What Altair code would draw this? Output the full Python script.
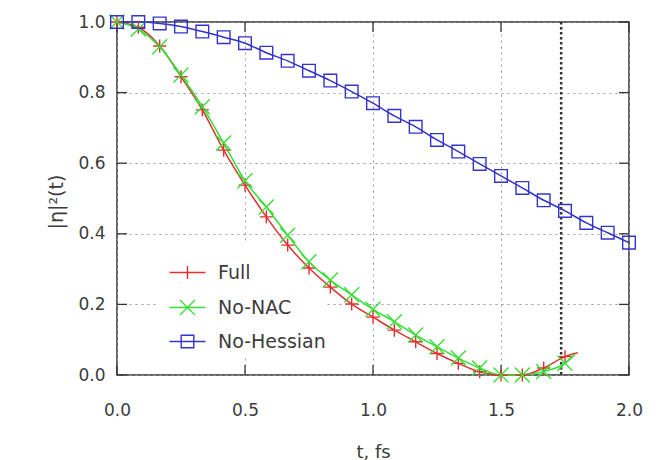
import altair as alt
import pandas as pd

# ---------------- data ----------------
t_marks = [0.0, 0.0833, 0.1667, 0.25, 0.3333, 0.4167, 0.5, 0.5833, 0.6667, 0.75,
           0.8333, 0.9167, 1.0, 1.0833, 1.1667, 1.25, 1.3333, 1.4167, 1.5, 1.5833,
           1.6667, 1.75, 1.8333, 1.9167, 2.0]

full_vals = [1.0, 0.985, 0.932, 0.845, 0.751, 0.637, 0.538, 0.448, 0.368, 0.303,
             0.249, 0.201, 0.164, 0.127, 0.094, 0.061, 0.033, 0.009, 0.0, 0.0,
             0.02, 0.052]
nonac_vals = [1.0, 0.98, 0.93, 0.85, 0.76, 0.657, 0.55, 0.476, 0.396, 0.321,
              0.269, 0.227, 0.186, 0.151, 0.113, 0.08, 0.048, 0.02, 0.0, 0.0,
              0.01, 0.033]
nohess_vals = [1.0, 1.0, 0.996, 0.987, 0.973, 0.957, 0.94, 0.913, 0.89, 0.862,
               0.834, 0.803, 0.77, 0.734, 0.703, 0.666, 0.633, 0.598, 0.564, 0.53,
               0.495, 0.465, 0.431, 0.403, 0.375]

# curve end points (lines continue slightly past the last marker)
full_end = (1.8, 0.063)
nonac_end = (1.79, 0.058)

series_names = ["Full", "No-NAC", "No-Hessian"]
series_colors = ["#e2302f", "#36e036", "#3434cc"]
marker_shapes = ["M-1,0L1,0M0,-1L0,1", "M-1,-1L1,1M-1,1L1,-1", "square"]
marker_sizes = [169, 225, 160]
legend_shapes = [
    "M-3,0L3,0M0,-1.1L0,1.1",
    "M-3,0L3,0M-1.25,-1.25L1.25,1.25M-1.25,1.25L1.25,-1.25",
    "M-3,0L3,0M-1.05,-1.05L1.05,-1.05L1.05,1.05L-1.05,1.05Z",
]

x_ticks = [0.0, 0.5, 1.0, 1.5, 2.0]
y_ticks = [0.0, 0.2, 0.4, 0.6, 0.8, 1.0]
marker_line_t = 1.735

FONT = "DejaVu Sans"
TXT = "#3c3c3c"

# ---------------- tables ----------------
rows = []
line_rows = []
for name, vals, shp, sz, end in zip(series_names, [full_vals, nonac_vals, nohess_vals],
                                    marker_shapes, marker_sizes,
                                    [full_end, nonac_end, None]):
    for t, v in zip(t_marks, vals):
        rows.append({"t": t, "v": v, "series": name, "mk": shp, "sz": sz})
        line_rows.append({"t": t, "v": v, "series": name})
    if end is not None:
        line_rows.append({"t": end[0], "v": end[1], "series": name})
pts = pd.DataFrame(rows)
lines = pd.DataFrame(line_rows)

W, H = 512, 353
xs = alt.Scale(domain=[0, 2], nice=False, zero=False)
ys = alt.Scale(domain=[0, 1], nice=False, zero=False)
cs = alt.Scale(domain=series_names, range=series_colors)

x_axis = alt.Axis(values=x_ticks, format=".1f", grid=True, gridDash=[2, 4],
                  gridColor="#9a9a9a", gridWidth=1, domain=False, ticks=False,
                  labelFlush=False, labelOverlap=False,
                  labelPadding=27, labelFontSize=17, labelFont=FONT, labelColor=TXT,
                  title="t, fs", titleFont=FONT, titleFontSize=18, titleColor=TXT,
                  titleFontWeight="normal", titleBaseline="alphabetic", titleY=82)
y_axis = alt.Axis(values=y_ticks, format=".1f", grid=True, gridDash=[2, 4],
                  gridColor="#9a9a9a", gridWidth=1, domain=False, ticks=False,
                  labelFlush=False, labelOverlap=False,
                  labelPadding=12, labelFontSize=17, labelFont=FONT, labelColor=TXT,
                  title="|η|²(t)", titleFont=FONT, titleFontSize=19, titleColor=TXT,
                  titleFontWeight="normal", titleX=-61, titleY=H / 2 + 3,
                  titleBaseline="middle", titleAlign="center", titleAngle=270)

leg = alt.Legend(orient="none", legendX=61, legendY=241, title=None,
                 labelFontSize=19, labelFont=FONT, labelColor=TXT,
                 symbolSize=144, symbolStrokeWidth=1.4,
                 symbolOpacity=1, symbolFillColor="transparent",
                 labelOffset=21, rowPadding=14, padding=0)

# legend background (keeps curves above it)
bg = alt.Chart(pd.DataFrame({"a": [0]})).mark_rect(color="white").encode(
    x=alt.value(40), x2=alt.value(209), y=alt.value(222), y2=alt.value(333))

line_layer = alt.Chart(lines).mark_line(interpolate="monotone", strokeWidth=1.5).encode(
    x=alt.X("t:Q", scale=xs, axis=x_axis),
    y=alt.Y("v:Q", scale=ys, axis=y_axis),
    color=alt.Color("series:N", scale=cs, legend=None),
    detail="series:N",
)

point_layer = alt.Chart(pts).mark_point(filled=False, strokeWidth=1.4, opacity=1).encode(
    x=alt.X("t:Q", scale=xs, axis=x_axis),
    y=alt.Y("v:Q", scale=ys, axis=y_axis),
    color=alt.Color("series:N", scale=cs, legend=None),
    shape=alt.Shape("mk:N", scale=None, legend=None),
    size=alt.Size("sz:Q", scale=None, legend=None),
)

legend_layer = alt.Chart(pts[pts["t"] == 0.0]).mark_point(
    filled=False, strokeWidth=1.4, opacity=0, size=144).encode(
    x=alt.X("t:Q", scale=xs, axis=x_axis),
    y=alt.Y("v:Q", scale=ys, axis=y_axis),
    color=alt.Color("series:N", scale=alt.Scale(domain=series_names, range=series_colors),
                    legend=leg),
    shape=alt.Shape("series:N",
                    scale=alt.Scale(domain=series_names, range=legend_shapes),
                    legend=leg),
)

vline = alt.Chart(pd.DataFrame({"t": [marker_line_t]})).mark_rule(
    color="#333333", strokeWidth=2.5, strokeDash=[2.5, 2.5]).encode(
    x=alt.X("t:Q", scale=xs, axis=x_axis))

TK = "#333333"
xt = pd.DataFrame({"t": x_ticks})
yt = pd.DataFrame({"v": y_ticks})
xtick_b = alt.Chart(xt).mark_rule(color=TK, strokeWidth=1.3).encode(
    x=alt.X("t:Q", scale=xs, axis=x_axis), y=alt.value(H), y2=alt.value(H - 10))
xtick_t = alt.Chart(xt).mark_rule(color=TK, strokeWidth=1.3).encode(
    x=alt.X("t:Q", scale=xs, axis=x_axis), y=alt.value(0), y2=alt.value(10))
ytick_l = alt.Chart(yt).mark_rule(color=TK, strokeWidth=1.3).encode(
    y=alt.Y("v:Q", scale=ys, axis=y_axis), x=alt.value(0), x2=alt.value(10))
ytick_r = alt.Chart(yt).mark_rule(color=TK, strokeWidth=1.3).encode(
    y=alt.Y("v:Q", scale=ys, axis=y_axis), x=alt.value(W), x2=alt.value(W - 10))

chart = alt.layer(
    bg, vline, xtick_b, xtick_t, ytick_l, ytick_r, line_layer, point_layer, legend_layer
).resolve_scale(shape="independent", size="independent", color="independent").properties(
    width=W, height=H,
    autosize=alt.AutoSizeParams(type="none"),
    padding={"left": 117, "top": 22, "right": 36, "bottom": 85},
    background="white",
).configure_view(stroke="#333333", strokeWidth=1.5)

chart.save("out.html", embed_options={"renderer": "svg", "actions": False})
